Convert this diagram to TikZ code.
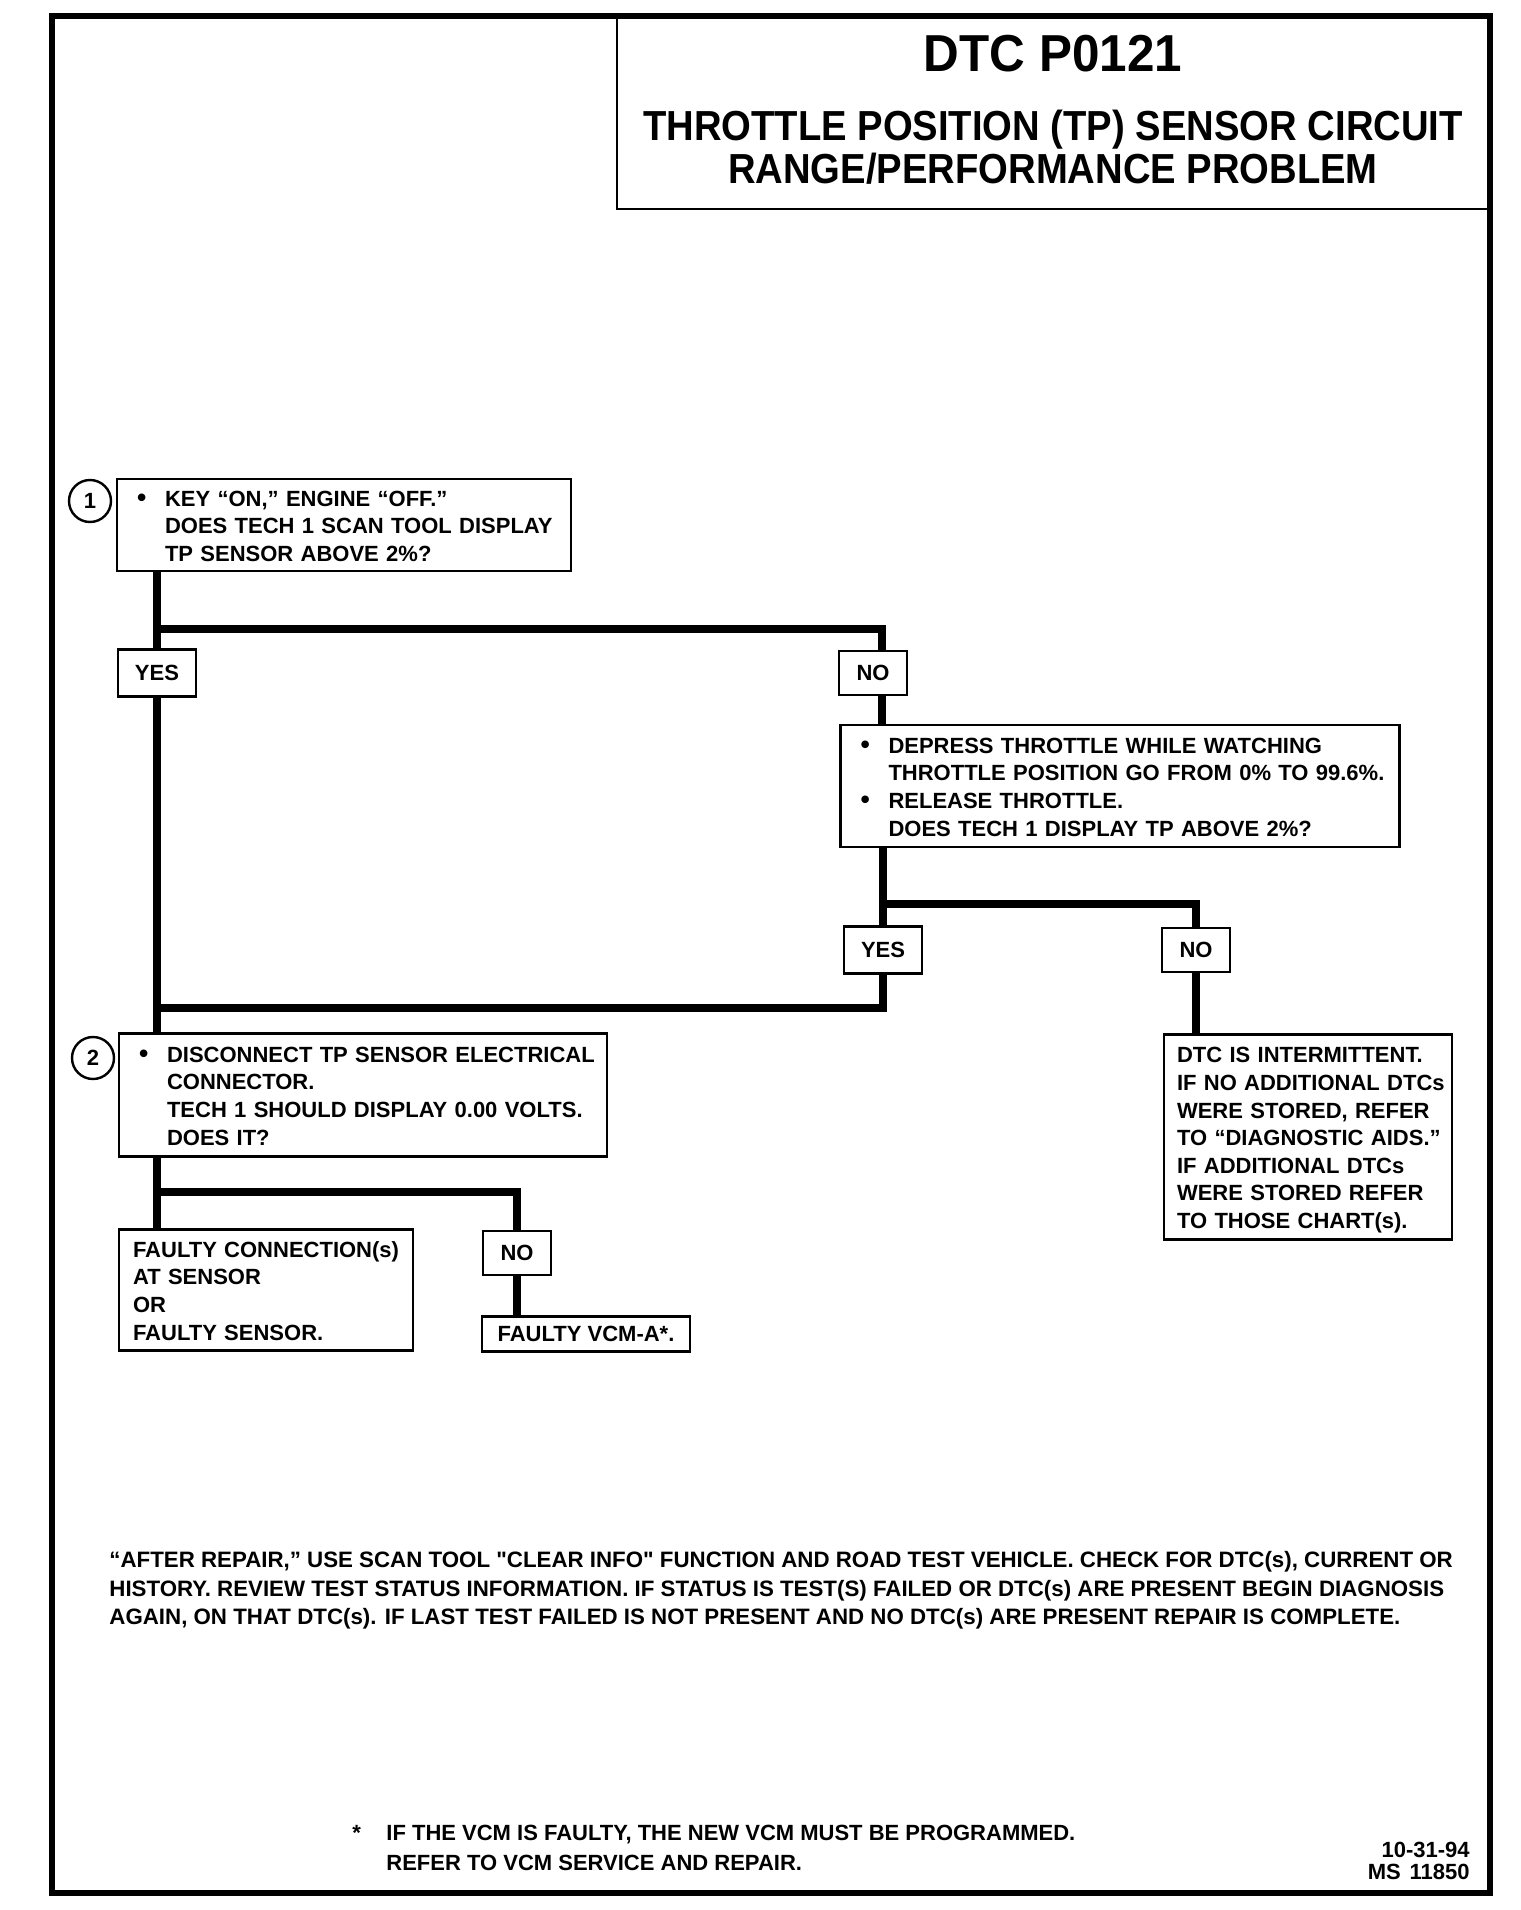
\documentclass[tikz,border=0pt]{standalone}
\usepackage{fontspec}
\setmainfont{Liberation Sans}
\newfontfamily\condfont{Liberation Sans}[FakeStretch=0.91]
\newfontfamily\dtcfont{Liberation Sans}[FakeStretch=0.95]
\usepackage{graphicx}
\usetikzlibrary{positioning, calc}

\newcommand{\bul}{\scalebox{1.2}{\textbullet}}
\newcommand{\bullist}[1]{\raisebox{-1.6pt}[\height][\depth]{\begin{tabular}{@{}p{14pt}@{}l@{}}#1\end{tabular}}}
\newcommand{\linelist}[1]{\raisebox{-1.6pt}[\height][\depth]{\begin{tabular}{@{}l@{}}#1\end{tabular}}}

\tikzset{
    frameline/.style={line width=2.6pt},
    titleline/.style={line width=1.4pt},
    dtctitle/.style={inner sep=0pt, font=\dtcfont\bfseries\fontsize{26}{28}\selectfont},
    heading/.style={inner sep=0pt, font=\condfont\bfseries\fontsize{21}{20}\selectfont},
    qbox/.style={rectangle, draw, line width=1.1pt, inner xsep=10pt, inner ysep=0pt, align=left, font=\bfseries\fontsize{11}{13.8}\selectfont},
    answer/.style={rectangle, draw, line width=1.1pt, inner sep=0pt, font=\bfseries\fontsize{11}{13.8}\selectfont},
    yesbox/.style={answer, minimum width=39pt, minimum height=23.5pt},
    nobox/.style={answer, minimum width=34pt, minimum height=22pt},
    stepno/.style={circle, draw, line width=1.2pt, minimum size=21pt, inner sep=0pt, font=\bfseries\fontsize{11}{13}\selectfont},
    conn/.style={line width=3.6pt},
    note/.style={inner sep=0pt, align=left, font=\bfseries\fontsize{11}{14.25}\selectfont}
}

\begin{document}
\begin{tikzpicture}[x=0.5pt, y=-0.5pt]
    \fill[white] (0,0) rectangle (1520,1910);
    \useasboundingbox (0,0) rectangle (1520,1910);
    % frame and title block
    \draw[frameline] (52,16) rectangle (1490,1893);
    \draw[titleline] (617,16) |- (1490,209);
    \node[dtctitle, anchor=base] (dtc) at (1053,72) {DTC P0121};
    \node[heading, anchor=base] (head1) at (1053,141) {THROTTLE POSITION (TP) SENSOR CIRCUIT};
    \node[heading, anchor=base] (head2) at (1053,184) {RANGE/PERFORMANCE PROBLEM};

    % step 1
    \node[qbox, text width=207pt, minimum height=46pt] (box1) at (344,525) {\bullist{\bul & KEY “ON,” ENGINE “OFF.”\\ & DOES TECH 1 SCAN TOOL DISPLAY\\ & TP SENSOR ABOVE 2\%?}};
    \node[stepno] (num1) at (90,501) {1};
    \node[yesbox] (yes1) at (157,673) {YES};
    \node[nobox] (no1) at (873,673) {NO};
    \node[qbox, text width=259.5pt, minimum height=61pt] (box3) at (1120,786) {\bullist{\bul & DEPRESS THROTTLE WHILE WATCHING\\ & THROTTLE POSITION GO FROM 0\% TO 99.6\%.\\ \bul & RELEASE THROTTLE.\\ & DOES TECH 1 DISPLAY TP ABOVE 2\%?}};
    \node[yesbox] (yes2) at (883,950) {YES};
    \node[nobox] (no2) at (1196,950) {NO};
    \node[qbox, inner xsep=6.5pt, text width=131pt, minimum height=102.5pt] (box4) at (1308,1137) {\linelist{DTC IS INTERMITTENT.\\IF NO ADDITIONAL DTCs\\WERE STORED, REFER\\TO “DIAGNOSTIC AIDS.”\\IF ADDITIONAL DTCs\\WERE STORED REFER\\TO THOSE CHART(s).}};

    % step 2
    \node[qbox, text width=224pt, minimum height=61.5pt] (box2) at (363,1095) {\bullist{\bul & DISCONNECT TP SENSOR ELECTRICAL\\ & CONNECTOR.\\ & TECH 1 SHOULD DISPLAY 0.00 VOLTS.\\ & DOES IT?}};
    \node[stepno] (num2) at (93,1058) {2};
    \node[qbox, inner xsep=7pt, text width=133pt, minimum height=60.5pt] (box5) at (266,1290) {\linelist{FAULTY CONNECTION(s)\\AT SENSOR\\OR\\FAULTY SENSOR.}};
    \node[nobox] (no3) at (517,1253) {NO};
    \node[answer, minimum width=104pt, minimum height=17.5pt] (box6) at (586,1334) {FAULTY VCM-A*.};

    % connectors
    \coordinate (split1) at (157,629);
    \coordinate (split2) at (883,904);
    \coordinate (merge) at (157,1008);
    \coordinate (split3) at (157,1192);
    \draw[conn] (box1.south -| split1) -- (yes1.north);
    \draw[conn] (split1) -| ([xshift=4.5pt]no1.north);
    \draw[conn] ([xshift=4.5pt]no1.south) -- ([xshift=4.5pt]no1.south |- box3.north);
    \draw[conn] (box3.south -| split2) -- (yes2.north);
    \draw[conn] (split2) -| (no2.north);
    \draw[conn] (no2.south) -- (no2.south |- box4.north);
    \draw[conn] (yes2.south) |- (merge);
    \draw[conn] (yes1.south) -- (yes1.south |- box2.north);
    \draw[conn] (box2.south -| split3) -- (split3 |- box5.north);
    \draw[conn] (split3) -| (no3.north);
    \draw[conn] (no3.south) -- (no3.south |- box6.north);

    % notes
    \node[note, anchor=north west, font=\bfseries\fontsize{11.15}{14.25}\selectfont] (repair) at (109,1551) {“AFTER REPAIR,” USE SCAN TOOL \textquotedbl CLEAR INFO\textquotedbl{} FUNCTION AND ROAD TEST VEHICLE. CHECK FOR DTC(s), CURRENT OR\\HISTORY. REVIEW TEST STATUS INFORMATION. IF STATUS IS TEST(S) FAILED OR DTC(s) ARE PRESENT BEGIN DIAGNOSIS\\AGAIN, ON THAT DTC(s). IF LAST TEST FAILED IS NOT PRESENT AND NO DTC(s) ARE PRESENT REPAIR IS COMPLETE.};
    \node[note, anchor=north west] (star) at (352,1825) {*};
    \node[note, anchor=north west, font=\bfseries\fontsize{11}{15}\selectfont] (vcmnote) at (386,1825) {IF THE VCM IS FAULTY, THE NEW VCM MUST BE PROGRAMMED.\\REFER TO VCM SERVICE AND REPAIR.};
    \node[note, anchor=north east, align=right, font=\bfseries\fontsize{11}{11}\selectfont] (chartid) at (1470,1842) {10-31-94\\MS\hspace{0.4em}11850};
\end{tikzpicture}
\end{document}
